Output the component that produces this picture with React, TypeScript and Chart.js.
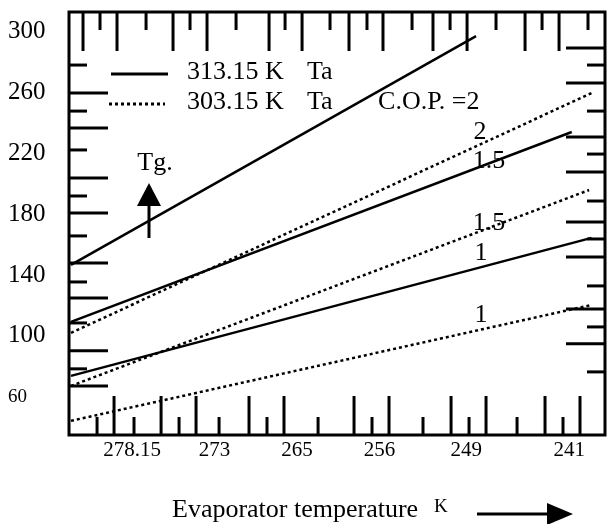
import React, { useEffect, useRef } from "react";
import { Chart, registerables } from "chart.js";

Chart.register(...registerables);

// ---- data ----
const yTickValues = [60, 100, 140, 180, 220, 260, 300];
const xTickLabels = ["278.15", "273", "265", "256", "249", "241"];
const xTickPositions = [1, 2, 3, 4, 5.05, 6.3];
const copLabels = ["2", "1.5", "1"];
const lineStartX = 0.26;
// Ta = 313.15 K (solid)
const ta313StartY = [146.6, 109.2, 73.8];
const ta313EndX = [5.17, 6.33, 6.57];
const ta313EndY = [296.7, 233.8, 164.3];
// Ta = 303.15 K (dotted)
const ta303StartY = [102.0, 67.2, 44.3];
const ta303EndX = [6.57, 6.54, 6.57];
const ta303EndY = [259.3, 195.7, 120.3];
// minor decoration ticks on the frame (axis units)
const topMajor = [0.406, 0.818, 1.497, 1.909, 2.661, 3.061, 3.63, 4.042, 4.648, 5.061, 5.764, 6.176];
const topMinor = [0.612, 1.17, 1.703, 2.261, 2.855, 3.4, 3.848, 4.394, 4.855, 5.412, 5.97, 6.527];
const bottomMajor = [0.782, 1.352, 1.776, 2.418, 2.842, 3.691, 4.115, 4.867, 5.291, 6.006, 6.43];
const bottomMinor = [0.576, 1.024, 1.57, 2.055, 2.636, 3.255, 3.909, 4.527, 5.085, 5.667, 6.224];
const leftMajor = [259.3, 236.4, 203.6, 180.7, 147.9, 124.9, 90.2, 67.2];
const leftMinor = [277.7, 247.5, 222.0, 191.8, 165.6, 135.4, 108.5, 78.4];
const rightMajor = [288.9, 265.9, 230.5, 207.5, 174.8, 151.8, 117.7, 94.8];
const rightMinor = [277.7, 247.5, 219.3, 188.5, 163.6, 132.8, 105.9, 76.4];

// ---- layout (annotation anchors, in axis units) ----
const label313Pos = [
  { x: 3.982, y: 253.4, text: "C.O.P. =" },
  { x: 5.327, y: 214.8 },
  { x: 5.23, y: 154.4 },
];
const label303Pos = [
  { x: 5.218, y: 233.8 },
  { x: 5.327, y: 174.1 },
  { x: 5.23, y: 113.8 },
];

const FONT = "'Liberation Serif', 'Times New Roman', serif";

const decorPlugin = {
  id: "decor",
  afterDatasetsDraw(chart: any) {
    const { ctx, chartArea: a, scales } = chart;
    const x = scales.x;
    const y = scales.y;
    ctx.save();
    ctx.strokeStyle = "#000";
    ctx.fillStyle = "#000";
    ctx.lineWidth = 3;
    ctx.lineCap = "butt";
    ctx.strokeRect(a.left, a.top, a.right - a.left, a.bottom - a.top);

    const LONG = 39;
    const SHORT = 18;
    const seg = (x1: number, y1: number, x2: number, y2: number) => {
      ctx.beginPath();
      ctx.moveTo(x1, y1);
      ctx.lineTo(x2, y2);
      ctx.stroke();
    };
    topMajor.forEach((v) => { const p = x.getPixelForValue(v); seg(p, a.top, p, a.top + LONG); });
    topMinor.forEach((v) => { const p = x.getPixelForValue(v); seg(p, a.top, p, a.top + SHORT); });
    bottomMajor.forEach((v) => { const p = x.getPixelForValue(v); seg(p, a.bottom, p, a.bottom - LONG); });
    bottomMinor.forEach((v) => { const p = x.getPixelForValue(v); seg(p, a.bottom, p, a.bottom - SHORT); });
    leftMajor.forEach((v) => { const p = y.getPixelForValue(v); seg(a.left, p, a.left + LONG, p); });
    leftMinor.forEach((v) => { const p = y.getPixelForValue(v); seg(a.left, p, a.left + SHORT, p); });
    rightMajor.forEach((v) => { const p = y.getPixelForValue(v); seg(a.right, p, a.right - LONG, p); });
    rightMinor.forEach((v) => { const p = y.getPixelForValue(v); seg(a.right, p, a.right - SHORT, p); });

    // legend
    ctx.font = `26px ${FONT}`;
    ctx.textBaseline = "middle";
    ctx.textAlign = "left";
    ctx.lineWidth = 3;
    seg(a.left + 42, a.top + 62, a.left + 99, a.top + 62);
    ctx.setLineDash([3, 3]);
    seg(a.left + 40, a.top + 92, a.left + 96, a.top + 92);
    ctx.setLineDash([]);
    ctx.fillText("313.15 K", a.left + 118, a.top + 60);
    ctx.fillText("Ta", a.left + 238, a.top + 60);
    ctx.fillText("303.15 K", a.left + 118, a.top + 90);
    ctx.fillText("Ta", a.left + 238, a.top + 90);

    // COP annotations
    label313Pos.forEach((p, i) => {
      const px = x.getPixelForValue(p.x);
      const py = y.getPixelForValue(p.y);
      if (p.text) {
        ctx.textAlign = "left";
        ctx.fillText(p.text + copLabels[i], px, py);
      } else {
        ctx.textAlign = "center";
        ctx.fillText(copLabels[i], px, py);
      }
    });
    label303Pos.forEach((p, i) => {
      ctx.textAlign = "center";
      ctx.fillText(copLabels[i], x.getPixelForValue(p.x), y.getPixelForValue(p.y));
    });

    // Tg. arrow
    ctx.textAlign = "center";
    ctx.fillText("Tg.", a.left + 86, a.top + 151);
    seg(a.left + 80, a.top + 226, a.left + 80, a.top + 192);
    ctx.beginPath();
    ctx.moveTo(a.left + 68, a.top + 194);
    ctx.lineTo(a.left + 92, a.top + 194);
    ctx.lineTo(a.left + 80, a.top + 171);
    ctx.closePath();
    ctx.fill();

    // x-axis title with arrow
    ctx.textAlign = "left";
    ctx.textBaseline = "alphabetic";
    ctx.font = `26px ${FONT}`;
    ctx.fillText("Evaporator temperature", 172, 517);
    ctx.font = `19px ${FONT}`;
    ctx.fillText("K", 434, 512);
    seg(477, 514, 550, 514);
    ctx.beginPath();
    ctx.moveTo(547, 503);
    ctx.lineTo(547, 525);
    ctx.lineTo(573, 514);
    ctx.closePath();
    ctx.fill();
    ctx.restore();
  },
};

function makeLine(label: string, x0: number, y0: number, x1: number, y1: number, dotted: boolean) {
  return {
    label,
    data: [{ x: x0, y: y0 }, { x: x1, y: y1 }],
    borderColor: "#000",
    backgroundColor: "#000",
    borderWidth: 2.5,
    borderDash: dotted ? [3, 3] : [],
    pointRadius: 0,
    showLine: true,
    fill: false,
  };
}

export default function App() {
  const ref = useRef<HTMLCanvasElement | null>(null);
  useEffect(() => {
    if (!ref.current) return;
    const datasets: any[] = [];
    copLabels.forEach((c, i) => {
      datasets.push(makeLine(`313.15 K COP ${c}`, lineStartX, ta313StartY[i], ta313EndX[i], ta313EndY[i], false));
    });
    copLabels.forEach((c, i) => {
      datasets.push(makeLine(`303.15 K COP ${c}`, lineStartX, ta303StartY[i], ta303EndX[i], ta303EndY[i], true));
    });
    const chart = new Chart(ref.current, {
      type: "scatter",
      data: { datasets },
      plugins: [decorPlugin],
      options: {
        animation: false,
        responsive: false,
        maintainAspectRatio: false,
        layout: { padding: { left: 8, top: 12, right: 2, bottom: 0 } },
        plugins: { legend: { display: false }, tooltip: { enabled: false } },
        scales: {
          x: {
            type: "linear",
            min: 0.236,
            max: 6.733,
            grid: { display: false, drawTicks: false },
            border: { display: false },
            afterBuildTicks: (s: any) => {
              s.ticks = xTickPositions.map((v) => ({ value: v }));
            },
            afterFit: (s: any) => {
              s.height = 89;
              s.paddingLeft = 0;
              s.paddingRight = 0;
            },
            ticks: {
              color: "#000",
              padding: 3,
              maxRotation: 0,
              autoSkip: false,
              font: { family: FONT, size: 21 },
              callback: (_v: any, i: number) => xTickLabels[i],
            },
          },
          y: {
            type: "linear",
            min: 35,
            max: 312.5,
            grid: { display: false, drawTicks: false },
            border: { display: false },
            afterBuildTicks: (s: any) => {
              s.ticks = yTickValues.map((v) => ({ value: v }));
            },
            afterFit: (s: any) => {
              s.width = 61;
              s.paddingTop = 0;
              s.paddingBottom = 0;
            },
            ticks: {
              color: "#000",
              crossAlign: "far",
              autoSkip: false,
              font: (c: any) => ({ family: FONT, size: c.tick && c.tick.value === 60 ? 19 : 25 }),
            },
          },
        },
      },
    });
    return () => chart.destroy();
  }, []);
  return (
    <div style={{ position: "fixed", left: 0, top: 0, width: 607, height: 524, background: "#fff" }}>
      <canvas ref={ref} width={607} height={524} style={{ width: 607, height: 524, display: "block" }} />
    </div>
  );
}
